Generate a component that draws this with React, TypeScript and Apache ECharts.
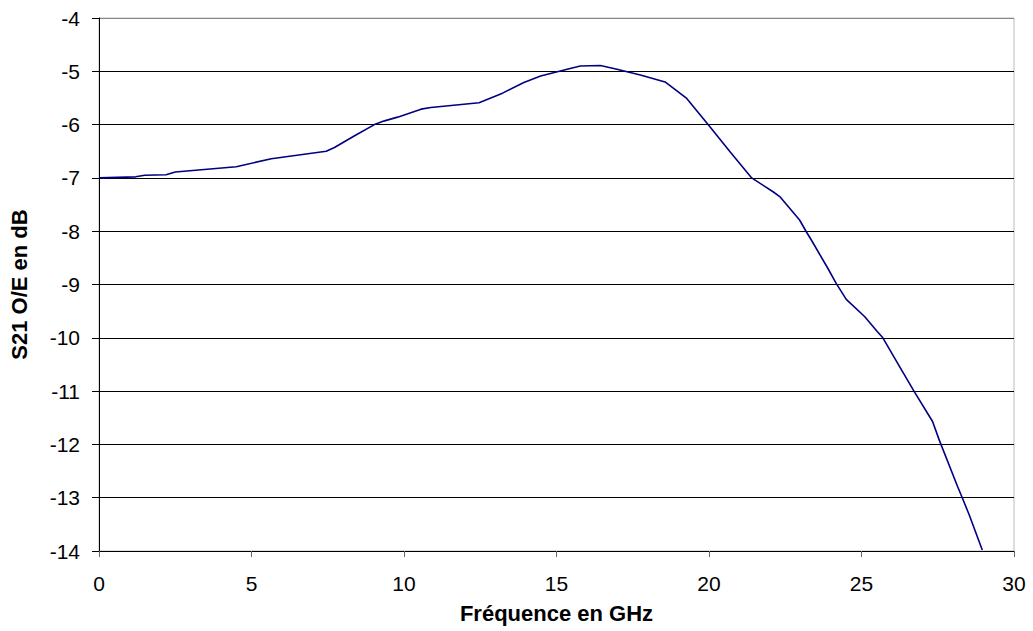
import React, { useEffect, useRef } from "react";
import * as echarts from "echarts";

const frequencies = [
  0, 1.2, 1.5, 2.2, 2.5, 4.5, 5.65, 7.45, 7.72, 8.38, 9.03, 9.36, 9.79, 10.56,
  10.88, 12.46, 13.23, 13.93, 14.48, 15.35, 15.78, 16.44, 16.98, 17.75, 18.56,
  19.27, 20.03, 20.69, 21.4, 22.1, 22.32, 22.97, 23.19, 23.36, 23.9, 24.17,
  24.5, 25.1, 25.53, 25.7, 26.35, 26.73, 27.33, 27.55, 28.15, 28.31, 28.53,
  28.96,
];
const s21Values = [
  -7.0, -6.98, -6.95, -6.94, -6.89, -6.79, -6.64, -6.5, -6.43, -6.21, -6.0,
  -5.93, -5.86, -5.71, -5.68, -5.59, -5.41, -5.21, -5.09, -4.96, -4.9, -4.89,
  -4.96, -5.07, -5.2, -5.51, -6.04, -6.51, -7.0, -7.26, -7.35, -7.79, -8.01,
  -8.17, -8.7, -8.98, -9.28, -9.6, -9.89, -10.0, -10.64, -11.01, -11.57,
  -11.92, -12.79, -13.01, -13.32, -13.98,
];
const xAxisTitle = "Fréquence en GHz";
const yAxisTitle = "S21 O/E en dB";

const FONT = "Liberation Sans, Arial, sans-serif";

export default function App() {
  const ref = useRef<HTMLDivElement>(null);
  useEffect(() => {
    if (!ref.current) return;
    const chart = echarts.init(ref.current, null, { renderer: "svg" });
    const data = frequencies.map((f, i) => [f, s21Values[i]]);
    const gridColors = [
      "#000", "#000", "#000", "#000", "#000", "#000",
      "#000", "#000", "#000", "#000", "#888",
    ];
    chart.setOption({
      animation: false,
      backgroundColor: "#fff",
      textStyle: { fontFamily: FONT },
      grid: {
        left: 97,
        right: 19,
        top: 18,
        bottom: 80,
        show: true,
        borderColor: "#bbb",
        borderWidth: 1,
        backgroundColor: "transparent",
      },
      xAxis: {
        type: "value",
        min: 0,
        max: 30,
        interval: 5,
        name: xAxisTitle,
        nameLocation: "middle",
        nameGap: 51,
        nameTextStyle: {
          fontSize: 22,
          fontWeight: "bold",
          color: "#000",
          fontFamily: FONT,
        },
        axisLine: { show: true, onZero: false, lineStyle: { color: "#000", width: 1 } },
        axisTick: { show: true, inside: false, length: 6, lineStyle: { color: "#666" } },
        axisLabel: {
          fontSize: 21,
          color: "#000",
          margin: 22,
          fontFamily: FONT,
        },
        splitLine: { show: false },
      },
      yAxis: {
        type: "value",
        min: -14,
        max: -4,
        interval: 1,
        name: yAxisTitle,
        nameLocation: "middle",
        nameGap: 69,
        nameTextStyle: {
          fontSize: 22,
          fontWeight: "bold",
          color: "#000",
          fontFamily: FONT,
        },
        axisLine: { show: true, onZero: false, lineStyle: { color: "#000", width: 1 } },
        axisTick: { show: true, inside: false, length: 7, lineStyle: { color: "#000" } },
        axisLabel: {
          fontSize: 21,
          color: "#000",
          margin: 19,
          fontFamily: FONT,
        },
        splitLine: { show: true, lineStyle: { color: gridColors, width: 1 } },
      },
      series: [
        {
          type: "line",
          data,
          showSymbol: false,
          smooth: false,
          lineStyle: { color: "#000080", width: 1.6 },
          itemStyle: { color: "#000080" },
        },
      ],
    });
    return () => chart.dispose();
  }, []);
  return (
    <div
      ref={ref}
      style={{ position: "fixed", left: 0, top: 0, width: 1033, height: 631, background: "#fff" }}
    />
  );
}
